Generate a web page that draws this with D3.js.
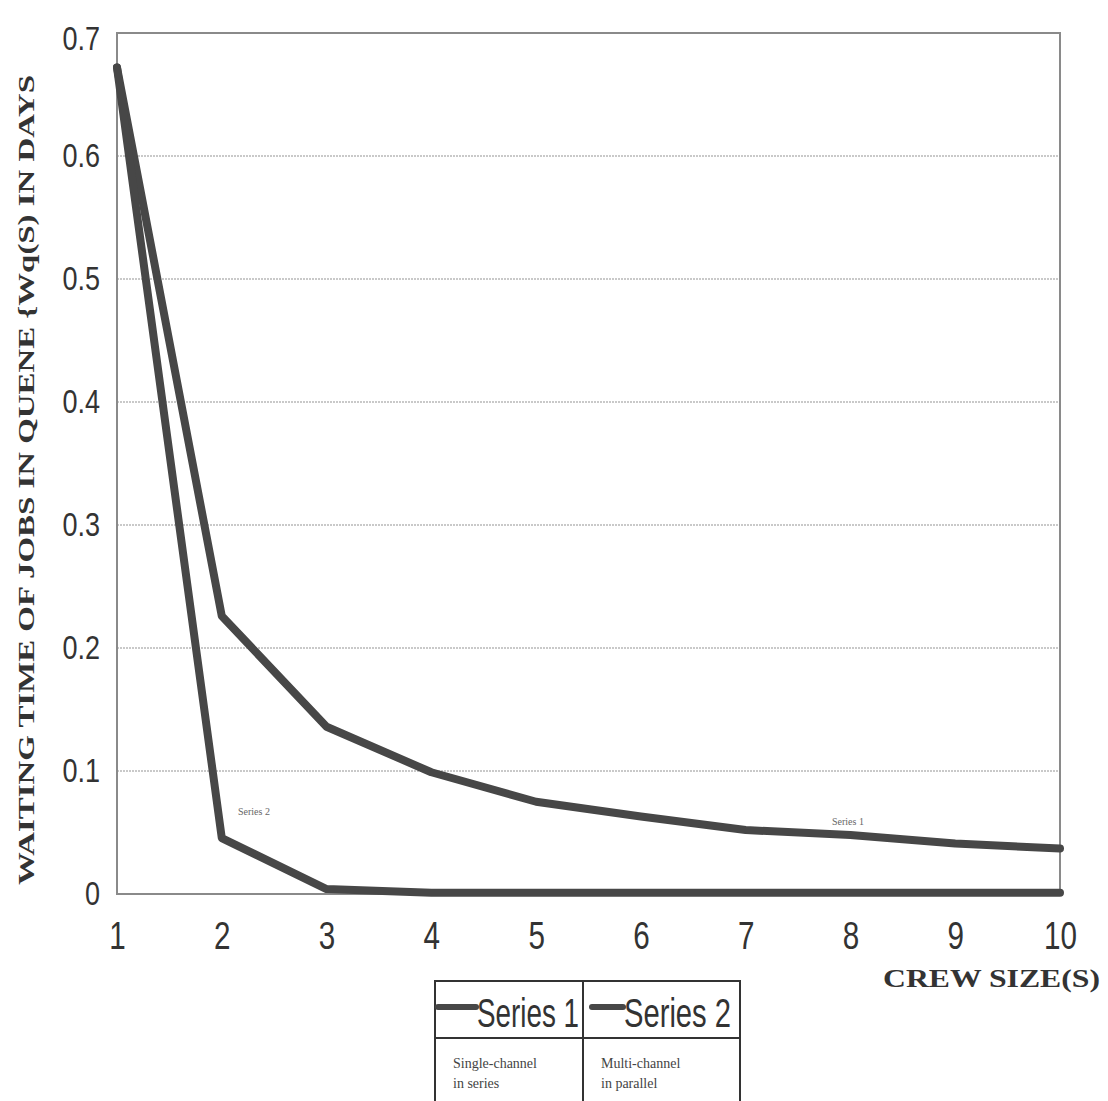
<!DOCTYPE html>
<html><head><meta charset="utf-8">
<script src="https://cdn.jsdelivr.net/npm/d3@7"></script>
<style>
html,body{margin:0;padding:0;background:#fff;}
svg{display:block;}
</style></head>
<body>
<script>
const crewSize = [1,2,3,4,5,6,7,8,9,10];
const series1 = [0.672,0.226,0.136,0.099,0.075,0.063,0.052,0.048,0.041,0.037];
const series2 = [0.672,0.0455,0.004,0.001,0.001,0.001,0.001,0.001,0.001,0.001];
const yTicks = [0,0.1,0.2,0.3,0.4,0.5,0.6,0.7];
const seriesNames = ["Series 1","Series 2"];
const seriesDesc = [["Single-channel","in series"],["Multi-channel","in parallel"]];
const yTitle = "WAITING TIME OF JOBS IN QUENE {Wq(S) IN DAYS";
const xTitle = "CREW SIZE(S)";

const W=1108,H=1101;
const m={l:117,r:1060,t:33,b:894};
const svg=d3.select("body").append("svg").attr("width",W).attr("height",H);
svg.append("rect").attr("width",W).attr("height",H).attr("fill","#fff");

const x=d3.scaleLinear().domain([1,10]).range([m.l,m.r]);
const y=d3.scaleLinear().domain([0,0.7]).range([m.b,m.t]);

const sans="'Liberation Sans',Arial,sans-serif";
const serif="'Liberation Serif','DejaVu Serif',serif";

// gridlines
svg.append("g").selectAll("line").data(yTicks.filter(d=>d>0&&d<0.7)).join("line")
  .attr("x1",m.l).attr("x2",m.r).attr("y1",d=>y(d)).attr("y2",d=>y(d))
  .attr("stroke","#b8b8b8").attr("stroke-width",1.5).attr("stroke-dasharray","2,1");

// frame
svg.append("rect").attr("x",m.l).attr("y",m.t).attr("width",m.r-m.l).attr("height",m.b-m.t)
  .attr("fill","none").attr("stroke","#8a8a8a").attr("stroke-width",2);

// y axis
const sxY=0.82;
const yAxis=d3.axisLeft(y).tickValues(yTicks).tickSize(0).tickPadding(17/sxY).tickFormat(d=>d===0?"0":d3.format(".1f")(d));
const gy=svg.append("g").attr("transform",`translate(${m.l},0)`).call(yAxis);
gy.select(".domain").remove();
gy.selectAll("text").attr("font-family",sans).attr("font-size",33).attr("fill","#333")
  .attr("transform",d=>(d===0.7?"translate(0,6) ":"")+`scale(${sxY},1)`);

// x axis
const xAxis=d3.axisBottom(x).tickValues(crewSize).tickSize(0).tickPadding(28).tickFormat(d3.format("d"));
const gx=svg.append("g").attr("transform",`translate(0,${m.b})`).call(xAxis);
gx.select(".domain").remove();
gx.selectAll("text").attr("font-family",sans).attr("font-size",38).attr("fill","#333")
  .attr("transform","scale(0.78,1)");

// lines
const line=d3.line().x((d,i)=>x(crewSize[i])).y(d=>y(d));
[series1,series2].forEach(s=>{
  svg.append("path").datum(s).attr("d",line).attr("fill","none")
    .attr("stroke","#474747").attr("stroke-width",8).attr("stroke-linejoin","round").attr("stroke-linecap","round");
});

// inline labels
svg.append("text").attr("x",238).attr("y",815).text("Series 2")
  .attr("font-family",serif).attr("font-size",10).attr("fill","#666");
svg.append("text").attr("x",832).attr("y",825).text("Series 1")
  .attr("font-family",serif).attr("font-size",10).attr("fill","#666");

// axis titles
svg.append("text").attr("transform",`translate(34,${(75+885)/2}) rotate(-90)`).attr("text-anchor","middle")
  .attr("font-family",serif).attr("font-weight","bold").attr("font-size",24).attr("fill","#333")
  .attr("textLength",810).attr("lengthAdjust","spacingAndGlyphs").text(yTitle);
svg.append("text").attr("x",1100).attr("y",987).attr("text-anchor","end")
  .attr("font-family",serif).attr("font-weight","bold").attr("font-size",25).attr("fill","#333")
  .attr("textLength",217).attr("lengthAdjust","spacingAndGlyphs").text(xTitle);

// legend table
const lg=svg.append("g");
const L=435,R=740,T=981,Mid=583,HR=1038,B=1104;
lg.append("rect").attr("x",L).attr("y",T).attr("width",R-L).attr("height",B-T).attr("fill","none").attr("stroke","#333").attr("stroke-width",2);
lg.append("line").attr("x1",Mid).attr("x2",Mid).attr("y1",T).attr("y2",B).attr("stroke","#333").attr("stroke-width",2);
lg.append("line").attr("x1",L).attr("x2",R).attr("y1",HR).attr("y2",HR).attr("stroke","#333").attr("stroke-width",2);
const cells=[[L,Mid],[Mid,R]];
const sampleW=[38,31], textW=[102,107];
seriesNames.forEach((n,i)=>{
  const [a,b]=cells[i];
  const s0 = i===0 ? a+3 : a+9;
  lg.append("line").attr("x1",s0).attr("x2",s0+sampleW[i]).attr("y1",1007).attr("y2",1007)
    .attr("stroke","#474747").attr("stroke-width",6).attr("stroke-linecap","round");
  lg.append("text").attr("x",s0+sampleW[i]+1).attr("y",1027).text(n)
    .attr("font-family",sans).attr("font-size",40).attr("fill","#333")
    .attr("textLength",textW[i]).attr("lengthAdjust","spacingAndGlyphs");
  seriesDesc[i].forEach((t,j)=>{
    lg.append("text").attr("x",a+18).attr("y",1068+j*20).text(t)
      .attr("font-family",serif).attr("font-size",14).attr("fill","#444");
  });
});
</script>
</body></html>
